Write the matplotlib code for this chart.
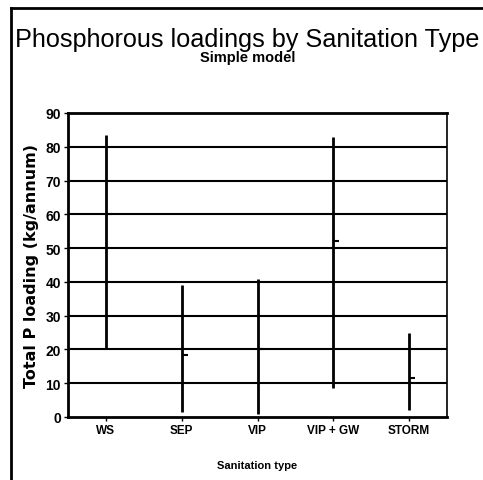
import matplotlib
matplotlib.use("Agg")
import matplotlib.pyplot as plt
from matplotlib.lines import Line2D

categories = ["WS", "SEP", "VIP", "VIP + GW", "STORM"]
high_vals = [83.5, 39, 41, 83, 25]
low_vals = [20.5, 1.5, 1, 8.5, 2]
mean_vals = [60, 18.5, 20, 52, 11.5]
y_ticks = [0, 10, 20, 30, 40, 50, 60, 70, 80, 90]

plt.rcParams['font.family'] = ['Liberation Sans', 'DejaVu Sans']

fig = plt.figure(figsize=(4.83, 4.81), dpi=100)
ax = fig.add_axes([0.1408, 0.131, 0.7847, 0.632])

x = list(range(1, len(categories) + 1))
for yv in y_ticks[1:-1]:
    ax.axhline(yv, color='black', lw=1.5, zorder=1)
ax.vlines(x, low_vals, high_vals, color='black', lw=2, zorder=3)
ax.plot(x, mean_vals, linestyle='none', marker=1, markersize=4,
        markeredgewidth=1.5, color='black', zorder=4)

ax.set_xlim(0.5, 5.5)
ax.set_ylim(0, 90)
ax.set_yticks(y_ticks)
ax.set_yticklabels([str(v) for v in y_ticks], fontsize=10, fontweight='bold')
ax.set_xticks(x)
ax.set_xticklabels(categories, fontsize=8.5, fontweight='bold')
ax.tick_params(axis='both', direction='out', length=3, width=1, color='black', pad=2)
for side in ['left', 'bottom', 'top']:
    ax.spines[side].set_linewidth(2)
ax.spines['right'].set_linewidth(1.2)

ax.set_xlabel("Sanitation type", fontsize=8, fontweight='bold', labelpad=17)
ax.set_ylabel("Total P loading (kg/annum)", fontsize=11.5, fontweight='bold',
              family='DejaVu Sans', labelpad=5)

fig.text(0.512, 0.917, "Phosphorous loadings by Sanitation Type", ha='center',
         va='center', fontsize=18.2)
fig.text(0.512, 0.879, "Simple model", ha='center', va='center', fontsize=10.5,
         fontweight='bold')

fig.add_artist(Line2D([0.022, 0.022], [0.0, 0.982], color='black', lw=2,
                      transform=fig.transFigure))
fig.add_artist(Line2D([0.022, 1.0], [0.982, 0.982], color='black', lw=2,
                      transform=fig.transFigure))

fig.savefig("out.png", dpi=100)
